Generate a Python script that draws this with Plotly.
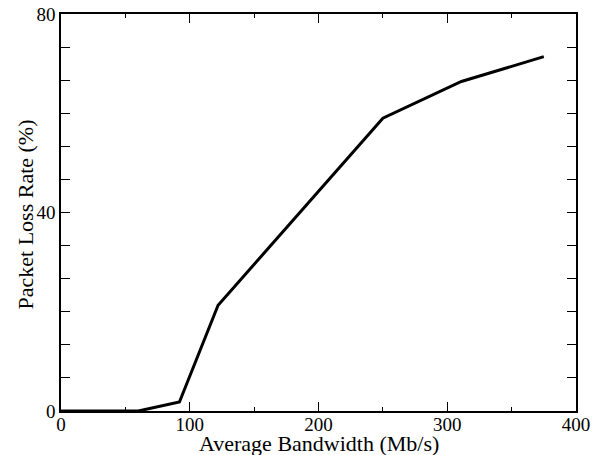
import plotly.graph_objects as go

bandwidth = [0, 60, 92, 122, 250, 311, 375]
loss_rate = [0, 0, 1.8, 21.3, 59, 66.4, 71.4]

x_title = "Average Bandwidth (Mb/s)"
y_title = "Packet Loss Rate (%)"

font_family = "Liberation Serif, Times New Roman, serif"

fig = go.Figure()
fig.add_trace(go.Scatter(x=bandwidth, y=loss_rate, mode="lines",
                         line=dict(color="black", width=3), showlegend=False))

axis_common = dict(showgrid=False, zeroline=False, showline=True, linecolor="black",
                   linewidth=1.5, mirror="ticks", ticks="inside", tickcolor="black",
                   tickwidth=1.2, automargin=False, ticklabeloverflow="allow",
                   tickfont=dict(family=font_family, size=19, color="black"))

fig.update_xaxes(range=[0, 400], dtick=100, ticklen=9, ticklabelstandoff=-5,
                 minor=dict(dtick=50, ticklen=4, ticks="inside", tickcolor="black", tickwidth=1.2),
                 **axis_common)
fig.update_yaxes(range=[0, 80], dtick=40, ticklen=9,
                 minor=dict(dtick=40/6, ticklen=9, ticks="inside", tickcolor="black", tickwidth=1.2),
                 **axis_common)

fig.add_annotation(text=x_title, xref="paper", yref="paper", x=0.5, y=0,
                   xanchor="center", yanchor="middle", yshift=-32, showarrow=False,
                   font=dict(family=font_family, size=22, color="black"))
fig.add_annotation(text=y_title, xref="paper", yref="paper", x=0, y=0.495,
                   xanchor="center", yanchor="middle", xshift=-36, textangle=-90,
                   showarrow=False, font=dict(family=font_family, size=22, color="black"))

# page body adds ~8px offset; compensate so plot area sits at x 61-576, y 14-411
fig.update_layout(width=591, height=447, margin=dict(l=53, r=23, t=6, b=44),
                  plot_bgcolor="white", paper_bgcolor="white")

fig.write_html("out.html")
